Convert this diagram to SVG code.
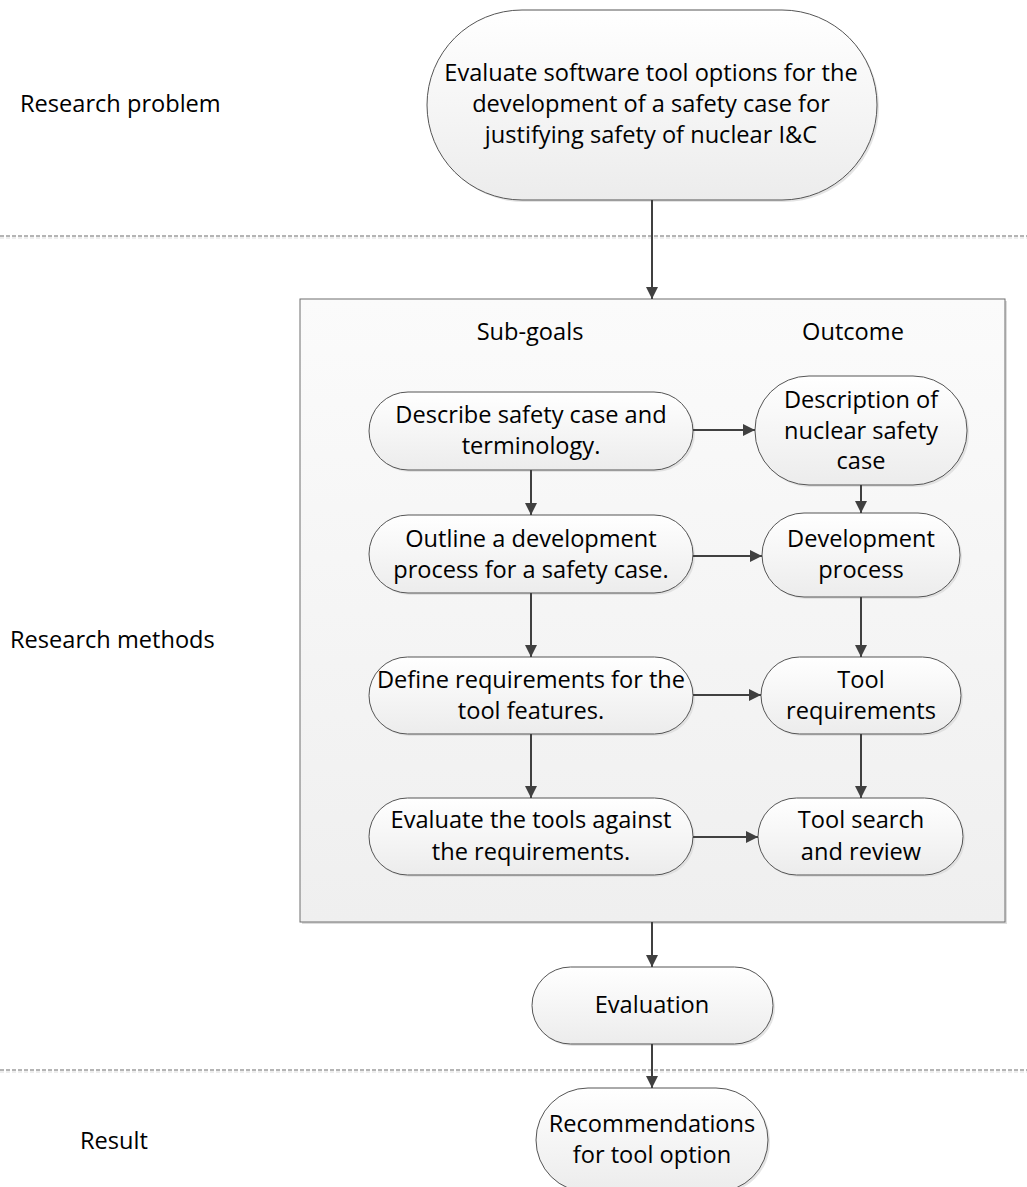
<svg xmlns="http://www.w3.org/2000/svg" width="1027" height="1187" viewBox="0 0 1027 1187">
<style>
text{font-family:"Open Sans","Noto Sans",sans-serif;font-size:23.6px;fill:#000;text-anchor:middle}
.lbl{text-anchor:start}
.node{fill:url(#ng);stroke:#555;stroke-width:1}
.shadow{fill:#d9d9d9;stroke:none;opacity:0.7}
.conn{stroke:#404040;stroke-width:2;fill:none;marker-end:url(#arr)}
.dash{stroke:#6a6a6a;stroke-width:1;stroke-dasharray:4 2}
.dash2{stroke:#dcdcdc;stroke-width:1;stroke-dasharray:4 2}
</style>
<defs>
<linearGradient id="ng" x1="0" y1="0" x2="0" y2="1">
<stop offset="0" stop-color="#ffffff"/>
<stop offset="1" stop-color="#ececec"/>
</linearGradient>
<linearGradient id="bg" x1="0" y1="0" x2="0" y2="1">
<stop offset="0" stop-color="#fbfbfb"/>
<stop offset="1" stop-color="#efefef"/>
</linearGradient>
<marker id="arr" viewBox="0 0 10 10" refX="10" refY="5" markerWidth="13" markerHeight="12" markerUnits="userSpaceOnUse" orient="auto">
<path d="M0,0 L10,5 L0,10 z" fill="#404040"/>
</marker>
</defs>
<rect width="1027" height="1187" fill="#fff"/>
<g id="separators">
<line class="dash2" x1="0" y1="238" x2="1027" y2="238"/>
<line class="dash" x1="0" y1="236" x2="1027" y2="236"/>
<line class="dash2" x1="0" y1="1072" x2="1027" y2="1072"/>
<line class="dash" x1="0" y1="1070" x2="1027" y2="1070"/>
</g>
<g id="labels">
<text class="lbl" x="20" y="112">Research problem</text>
<text class="lbl" x="10" y="648">Research methods</text>
<text class="lbl" x="80" y="1149">Result</text>
</g>
<g id="methods-box">
<rect x="302" y="301" width="705" height="623" fill="#dcdcdc"/>
<rect x="300" y="299" width="705" height="623" fill="url(#bg)" stroke="#6e6e6e" stroke-width="1"/>
<text x="530" y="340">Sub-goals</text>
<text x="853" y="340">Outcome</text>
</g>
<g id="problem">
<rect class="shadow" x="429" y="12" width="450" height="190" rx="95"/>
<rect class="node" x="427" y="10" width="450" height="190" rx="95"/>
<text x="651" y="81">Evaluate software tool options for the</text>
<text x="651" y="112">development of a safety case for</text>
<text x="651" y="143">justifying safety of nuclear I&amp;C</text>
</g>
<g id="subgoal1">
<rect class="shadow" x="371" y="394" width="324" height="78" rx="39"/>
<rect class="node" x="369" y="392" width="324" height="78" rx="39"/>
<text x="531" y="423">Describe safety case and</text>
<text x="531" y="454">terminology.</text>
</g>
<g id="outcome1">
<rect class="shadow" x="757" y="378" width="212" height="109" rx="54"/>
<rect class="node" x="755" y="376" width="212" height="109" rx="54"/>
<text x="861" y="408">Description of</text>
<text x="861" y="439">nuclear safety</text>
<text x="861" y="469">case</text>
</g>
<g id="subgoal2">
<rect class="shadow" x="371" y="517" width="324" height="78" rx="39"/>
<rect class="node" x="369" y="515" width="324" height="78" rx="39"/>
<text x="531" y="547">Outline a development</text>
<text x="531" y="578">process for a safety case.</text>
</g>
<g id="outcome2">
<rect class="shadow" x="764" y="515" width="198" height="84" rx="42"/>
<rect class="node" x="762" y="513" width="198" height="84" rx="42"/>
<text x="861" y="547">Development</text>
<text x="861" y="578">process</text>
</g>
<g id="subgoal3">
<rect class="shadow" x="371" y="659" width="324" height="77" rx="38.5"/>
<rect class="node" x="369" y="657" width="324" height="77" rx="38.5"/>
<text x="531" y="688">Define requirements for the</text>
<text x="531" y="719">tool features.</text>
</g>
<g id="outcome3">
<rect class="shadow" x="763" y="659" width="200" height="77" rx="38.5"/>
<rect class="node" x="761" y="657" width="200" height="77" rx="38.5"/>
<text x="861" y="688">Tool</text>
<text x="861" y="719">requirements</text>
</g>
<g id="subgoal4">
<rect class="shadow" x="371" y="800" width="324" height="77" rx="38.5"/>
<rect class="node" x="369" y="798" width="324" height="77" rx="38.5"/>
<text x="531" y="828">Evaluate the tools against</text>
<text x="531" y="860">the requirements.</text>
</g>
<g id="outcome4">
<rect class="shadow" x="760" y="800" width="205" height="77" rx="38.5"/>
<rect class="node" x="758" y="798" width="205" height="77" rx="38.5"/>
<text x="861" y="828">Tool search</text>
<text x="861" y="860">and review</text>
</g>
<g id="evaluation">
<rect class="shadow" x="534" y="969" width="241" height="77" rx="38.5"/>
<rect class="node" x="532" y="967" width="241" height="77" rx="38.5"/>
<text x="652" y="1013">Evaluation</text>
</g>
<g id="recommendations">
<rect class="shadow" x="538" y="1090" width="232" height="104" rx="52"/>
<rect class="node" x="536" y="1088" width="232" height="104" rx="52"/>
<text x="652" y="1132">Recommendations</text>
<text x="652" y="1163">for tool option</text>
</g>
<g id="connectors">
<line class="conn" x1="652" y1="200" x2="652" y2="299"/>
<line class="conn" x1="693" y1="430" x2="755" y2="430"/>
<line class="conn" x1="531" y1="470" x2="531" y2="515"/>
<line class="conn" x1="861" y1="485" x2="861" y2="513"/>
<line class="conn" x1="693" y1="556" x2="762" y2="556"/>
<line class="conn" x1="531" y1="593" x2="531" y2="657"/>
<line class="conn" x1="861" y1="597" x2="861" y2="657"/>
<line class="conn" x1="693" y1="695" x2="761" y2="695"/>
<line class="conn" x1="531" y1="734" x2="531" y2="798"/>
<line class="conn" x1="861" y1="734" x2="861" y2="798"/>
<line class="conn" x1="693" y1="837" x2="758" y2="837"/>
<line class="conn" x1="652" y1="922" x2="652" y2="967"/>
<line class="conn" x1="652" y1="1044" x2="652" y2="1088"/>
</g>
</svg>
